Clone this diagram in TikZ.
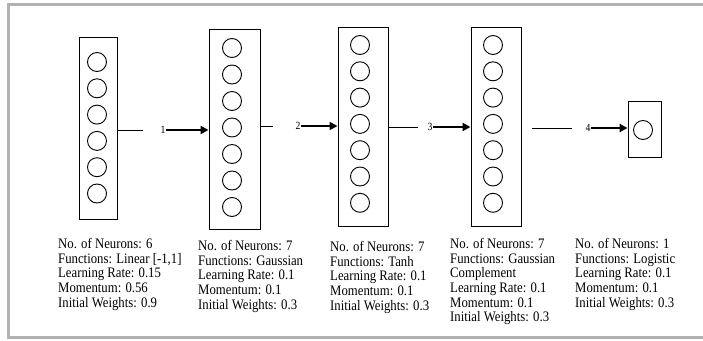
\documentclass[tikz,border=0pt]{standalone}
\usepackage{fontspec}
\setmainfont{Liberation Serif}[FakeStretch=0.88]
\usetikzlibrary{arrows.meta}

\begin{document}
\begin{tikzpicture}[
  x=1pt, y=-1pt,
  layer/.style={draw, line width=1pt, inner sep=0pt},
  neuron/.style={draw, circle, line width=0.9pt, minimum size=19pt, inner sep=0pt},
  info/.style={anchor=north west, align=left, inner sep=0pt,
               font=\fontsize{14.5}{14.7}\selectfont},
  num/.style={inner sep=0.5pt, font=\fontsize{11}{11}\selectfont},
  link/.style={line width=0.9pt},
  arr/.style={-{Triangle[length=8pt, width=8pt]}, line width=2.2pt}
]
  \useasboundingbox (0,0) rectangle (703,340);
  % outer frame
  \draw[line width=3pt, gray!60] (703,4) -- (8.5,4) -- (8.5,337.5) -- (703,337.5);

  % layers
  \node[layer, minimum width=38pt, minimum height=182pt] (B1) at (98,128) {};
  \node[layer, minimum width=51pt, minimum height=200pt] (B2) at (234.5,129) {};
  \node[layer, minimum width=50pt, minimum height=199pt] (B3) at (363,126.5) {};
  \node[layer, minimum width=50pt, minimum height=199pt] (B4) at (496,126.5) {};
  \node[layer, minimum width=33pt, minimum height=56pt]  (B5) at (644.5,129) {};

  % neurons
  \foreach \i in {0,...,5}
    \node[neuron] (n1\i) at (97,62+26.3*\i) {};
  \foreach \i in {0,...,6}
    \node[neuron] (n2\i) at (232,48+26.5*\i) {};
  \foreach \i in {0,...,6}
    \node[neuron] (n3\i) at (360,45+26.3*\i) {};
  \foreach \i in {0,...,6}
    \node[neuron] (n4\i) at (493,45+26.3*\i) {};
  \node[neuron] (n50) at (643,130) {};

  % connections
  \coordinate (t1) at (143,130);
  \coordinate (t2) at (273,126);
  \coordinate (t3) at (418,127);
  \coordinate (t4) at (572,128);
  \node[num] (L1) at (163,130) {1};
  \node[num] (L2) at (298,126) {2};
  \node[num] (L3) at (430,127) {3};
  \node[num] (L4) at (588,128) {4};

  \draw[link] (B1.east |- t1) -- (t1);
  \draw[link] (B2.east |- t2) -- (t2);
  \draw[link] (B3.east |- t3) -- (t3);
  \draw[link, shorten <=10pt] (B4.east |- t4) -- (t4);

  \draw[arr, line width=2.8pt] (L1.east) -- (L1 -| B2.west);
  \draw[arr, line width=1.8pt] (L2.east) -- (L2 -| B3.west);
  \draw[arr] (L3.east) -- (L3 -| B4.west);
  \draw[arr] (L4.east) -- (L4 -| B5.west);

  % parameters
  \node[info] (P1) at (58,238) {No. of Neurons: 6\\ Functions: Linear [-1,1]\\
    Learning Rate: 0.15\\ Momentum: 0.56\\ Initial Weights: 0.9};
  \node[info] (P2) at (198,240) {No. of Neurons: 7\\ Functions: Gaussian\\
    Learning Rate: 0.1\\ Momentum: 0.1\\ Initial Weights: 0.3};
  \node[info] (P3) at (330,241) {No. of Neurons: 7\\ Functions: Tanh\\
    Learning Rate: 0.1\\ Momentum: 0.1\\ Initial Weights: 0.3};
  \node[info] (P4) at (450,238) {No. of Neurons: 7\\ Functions: Gaussian\\
    Complement\\ Learning Rate: 0.1\\ Momentum: 0.1\\ Initial Weights: 0.3};
  \node[info] (P5) at (575,238) {No. of Neurons: 1\\ Functions: Logistic\\
    Learning Rate: 0.1\\ Momentum: 0.1\\ Initial Weights: 0.3};
\end{tikzpicture}
\end{document}
